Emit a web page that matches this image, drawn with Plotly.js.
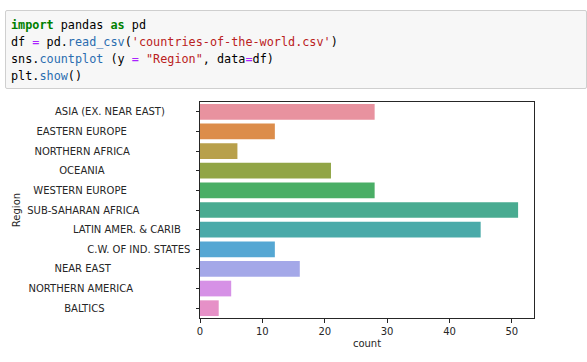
<!DOCTYPE html>
<html>
<head>
<meta charset="utf-8">
<script src="https://cdn.plot.ly/plotly-3.0.1.min.js"></script>
<style>
  html, body { margin: 0; padding: 0; background: #fff; width: 587px; height: 362px; overflow: hidden; }
  #plot { position: absolute; left: 0; top: 0; width: 587px; height: 362px; }
  #code {
    position: absolute; left: 5px; top: 10px; width: 582px; height: 79px;
    background: #f7f7f7; border: 1px solid #cfcfcf; border-radius: 2px;
    font-family: "DejaVu Sans Mono", monospace; font-size: 11.8px; color: #000;
    padding: 6px 0 0 5px; box-sizing: border-box; z-index: 5;
  }
  #code div { height: 17px; line-height: 17px; white-space: pre; }
  .kw { color: #008000; font-weight: bold; }
  .op { color: #aa22ff; }
  .fn { color: #2a6db0; }
  .st { color: #ba2121; }
</style>
</head>
<body>
<div id="code">
<div><span class="kw">import</span> pandas <span class="kw">as</span> pd</div>
<div>df <span class="op">=</span> pd.<span class="fn">read_csv</span>(<span class="st">'countries-of-the-world.csv'</span>)</div>
<div>sns.<span class="fn">countplot</span> (y <span class="op">=</span> <span class="st">"Region"</span>, data<span class="op">=</span>df)</div>
<div>plt.<span class="fn">show</span>()</div>
</div>
<div id="plot"></div>
<script>
// Region names as stored in the CSV (with their trailing padding)
const regions = [
  "ASIA (EX. NEAR EAST)         ",
  "EASTERN EUROPE                     ",
  "NORTHERN AFRICA                    ",
  "OCEANIA                            ",
  "WESTERN EUROPE                     ",
  "SUB-SAHARAN AFRICA                 ",
  "LATIN AMER. & CARIB    ",
  "C.W. OF IND. STATES ",
  "NEAR EAST                          ",
  "NORTHERN AMERICA                   ",
  "BALTICS                            "
];
const counts = [28, 12, 6, 21, 28, 51, 45, 12, 16, 5, 3];
const barColors = ["#e8929f", "#dc8d4b", "#b8a04b", "#91a546", "#4aae66", "#49ab91",
                   "#4aaaa9", "#55a7d3", "#a4a8e8", "#d691e6", "#e690c7"];
const xTicks = [0, 10, 20, 30, 40, 50];

const tickText = regions.map(r => r.replace(/ /g, "\u00A0"));
const axisColor = "#262626";

const trace = {
  type: "bar",
  orientation: "h",
  x: counts,
  y: regions,
  width: 0.8,
  marker: { color: barColors, line: { width: 0 } },
  hoverinfo: "none"
};

const layout = {
  width: 587, height: 362,
  margin: { l: 200, r: 53, t: 102, b: 44, pad: 0 },
  paper_bgcolor: "#ffffff",
  plot_bgcolor: "#ffffff",
  showlegend: false,
  font: { family: "DejaVu Sans", size: 10, color: axisColor },
  xaxis: {
    range: [0, Math.max(...counts) * 1.05],
    tickmode: "array", tickvals: xTicks, ticktext: xTicks.map(String),
    ticks: "outside", ticklen: 3.5, tickwidth: 1, tickcolor: axisColor,
    showline: true, linecolor: axisColor, linewidth: 1, mirror: true,
    showgrid: false, zeroline: false,
    tickfont: { size: 10, color: axisColor },
    title: { text: "count", font: { size: 10, color: axisColor }, standoff: 4 }
  },
  yaxis: {
    type: "category",
    autorange: "reversed",
    tickmode: "array", tickvals: regions, ticktext: tickText,
    ticks: "outside", ticklen: 3.5, tickwidth: 1, tickcolor: axisColor,
    showline: true, linecolor: axisColor, linewidth: 1, mirror: true,
    showgrid: false, zeroline: false,
    tickfont: { size: 10, color: axisColor },
    title: { text: "Region", font: { size: 10, color: axisColor }, standoff: 4 }
  }
};

Plotly.newPlot("plot", [trace], layout, { staticPlot: true, displayModeBar: false });
</script>
</body>
</html>
